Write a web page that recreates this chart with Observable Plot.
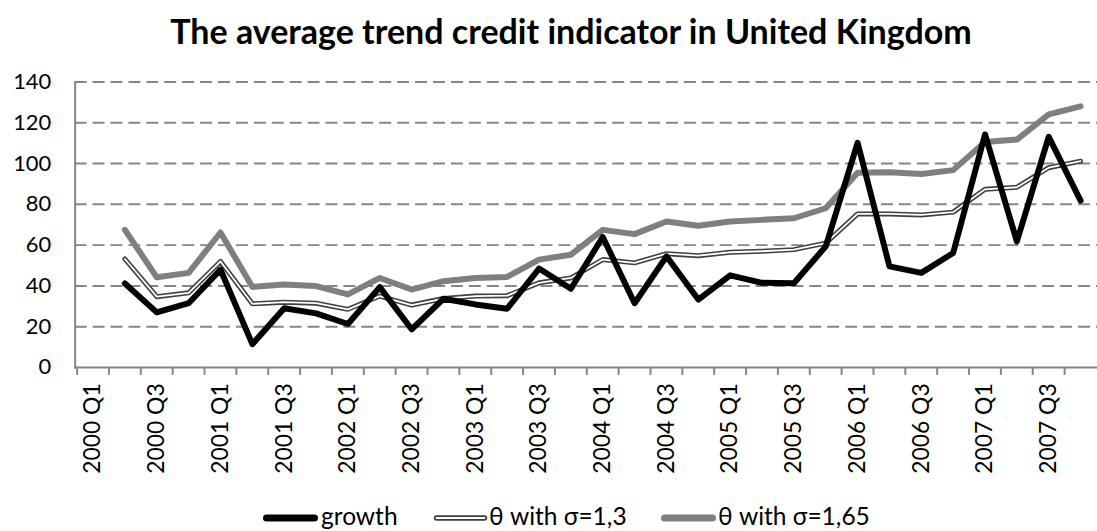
<!DOCTYPE html>
<html><head><meta charset="utf-8">
<script src="https://cdn.jsdelivr.net/npm/d3@7"></script>
<script src="https://cdn.jsdelivr.net/npm/@observablehq/plot@0.6"></script>
<style>
html,body{margin:0;padding:0;background:#fff;overflow:hidden;width:1097px;height:531px;}
#wrap{position:relative;width:1097px;height:531px;overflow:hidden;font-family:Lato,sans-serif;color:#000;}
#title{position:absolute;left:0;width:1142px;top:14px;line-height:34px;text-align:center;font-weight:bold;font-size:34px;white-space:nowrap;}
#chart{position:absolute;left:0;top:60px;}
.sw{position:absolute;top:511px;display:block;}
.lt{position:absolute;top:502px;line-height:28px;font-size:24.5px;white-space:nowrap;}
</style></head>
<body><div id="wrap"><div id="title">The average trend credit indicator in United Kingdom</div><div id="chart"></div><div id="legend"></div></div>
<script>
const quarters = ["2000 Q1","2000 Q2","2000 Q3","2000 Q4","2001 Q1","2001 Q2","2001 Q3","2001 Q4",
  "2002 Q1","2002 Q2","2002 Q3","2002 Q4","2003 Q1","2003 Q2","2003 Q3","2003 Q4",
  "2004 Q1","2004 Q2","2004 Q3","2004 Q4","2005 Q1","2005 Q2","2005 Q3","2005 Q4",
  "2006 Q1","2006 Q2","2006 Q3","2006 Q4","2007 Q1","2007 Q2","2007 Q3","2007 Q4"];
// series start at 2000 Q2
const growth = [41.2,27.0,31.5,48.0,11.4,29.0,26.5,21.3,39.4,18.7,33.7,30.9,28.8,48.5,38.6,64.0,
  31.5,54.5,33.3,45.2,41.5,41.3,59.4,110.2,49.6,46.4,56.1,114.3,61.8,113.1,81.8];
const theta13 = [53.2,34.7,36.6,52.0,31.2,32.0,31.5,28.5,35.0,30.6,33.8,35.0,35.2,41.5,43.9,52.9,
  51.3,55.8,54.8,56.5,57.0,57.8,61.0,75.3,75.3,74.8,76.2,87.4,88.4,98.0,101.2];
const theta165 = [67.5,44.2,46.4,66.2,39.5,40.7,39.9,35.8,43.9,38.2,42.3,43.9,44.4,52.9,55.3,67.5,
  65.4,71.6,69.5,71.6,72.4,73.2,78.1,95.5,95.8,94.9,96.8,110.6,111.8,124.2,128.1];
const yTicks = [0,20,40,60,80,100,120,140];
const xLabels = quarters.filter(q => /Q[13]$/.test(q));
const seriesNames = ["growth","θ with σ=1,3","θ with σ=1,65"];

const rows = growth.map((g,i) => ({q: quarters[i+1], growth: g, t13: theta13[i], t165: theta165[i]}));

const W = 1102, ML = 75, MR = 0, MT = 21.7, H = 420, MB = H - 308.3;
const step = (W - ML - MR) / quarters.length;
const gridColor = "#868686";

const chart = Plot.plot({
  width: W, height: H, marginLeft: ML, marginRight: MR, marginTop: MT, marginBottom: MB,
  style: {fontFamily: "Lato, sans-serif", fontSize: "22px", color: "#000", background: "transparent", overflow: "visible"},
  x: {type: "point", domain: quarters, padding: 0.5, align: 0.5, label: null},
  y: {domain: [0, 140], label: null},
  marks: [
    Plot.ruleY(yTicks.filter(d => d > 0), {stroke: gridColor, strokeWidth: 2, strokeDasharray: "12,6"}),
    Plot.frame({anchor: "left", stroke: gridColor, strokeWidth: 2}),
    Plot.frame({anchor: "bottom", stroke: gridColor, strokeWidth: 2}),
    Plot.axisX(quarters, {tickSize: 8, tickFormat: () => "", dx: -step / 2, stroke: gridColor, strokeWidth: 2}),
    Plot.axisX(xLabels, {tickSize: 0, tickPadding: 16, tickRotate: -90, fontSize: 23, fill: "#000"}),
    Plot.axisY(yTicks, {tickSize: 0, tickPadding: 24, fontSize: 22, fill: "#000"}),
    Plot.line(rows, {x: "q", y: "t165", stroke: "#7f7f7f", strokeWidth: 6, strokeLinejoin: "round", strokeLinecap: "round"}),
    Plot.line(rows, {x: "q", y: "t13", stroke: "#3f3f3f", strokeWidth: 5, strokeLinejoin: "round", strokeLinecap: "round"}),
    Plot.line(rows, {x: "q", y: "t13", stroke: "#ffffff", strokeWidth: 1.8, strokeLinejoin: "round", strokeLinecap: "round"}),
    Plot.line(rows, {x: "q", y: "growth", stroke: "#000", strokeWidth: 6, strokeLinejoin: "round", strokeLinecap: "round"})
  ]
});
document.getElementById("chart").appendChild(chart);

// legend
const legendItems = [
  {name: seriesNames[0], sw: 263, tx: 321, kind: "black"},
  {name: seriesNames[1], sw: 433, tx: 489, kind: "double"},
  {name: seriesNames[2], sw: 661, tx: 718, kind: "gray"}
];
const legend = document.getElementById("legend");
const ns = "http://www.w3.org/2000/svg";
for (const it of legendItems) {
  const svg = document.createElementNS(ns, "svg");
  svg.setAttribute("class", "sw");
  svg.setAttribute("width", 56); svg.setAttribute("height", 14);
  svg.style.left = it.sw + "px";
  const addLine = (stroke, w) => {
    const l = document.createElementNS(ns, "line");
    l.setAttribute("x1", 3.5); l.setAttribute("x2", 51.5); l.setAttribute("y1", 7); l.setAttribute("y2", 7);
    l.setAttribute("stroke", stroke); l.setAttribute("stroke-width", w); l.setAttribute("stroke-linecap", "round");
    svg.appendChild(l);
  };
  if (it.kind === "black") addLine("#000", 7);
  else if (it.kind === "gray") addLine("#7f7f7f", 7);
  else { addLine("#3f3f3f", 5.5); addLine("#fff", 2); }
  legend.appendChild(svg);
  const span = document.createElement("span");
  span.className = "lt";
  span.style.left = it.tx + "px";
  span.textContent = it.name;
  legend.appendChild(span);
}
</script></body></html>
